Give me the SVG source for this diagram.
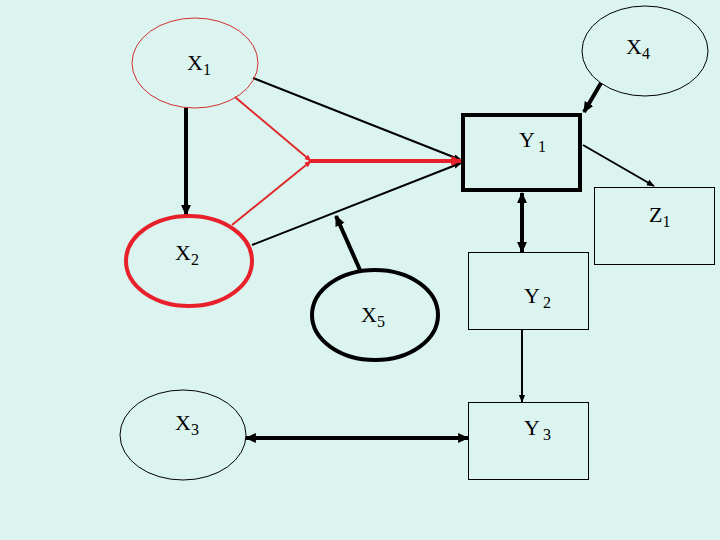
<svg xmlns="http://www.w3.org/2000/svg" width="720" height="540" viewBox="0 0 720 540">
<style>
text{font-family:"Liberation Serif","Times New Roman",serif;font-size:22px;fill:#000}
.sub{font-size:16px}
.thin{fill:none;stroke:#000;stroke-width:1}
.bk{stroke:#000;fill:none}
</style>
<defs>
<marker id="ab" viewBox="0 0 10 10" refX="9" refY="5" markerWidth="11" markerHeight="11" markerUnits="userSpaceOnUse" orient="auto-start-reverse"><path d="M0,0.5 L10,5 L0,9.5 z" fill="#000"/></marker>
<marker id="as" viewBox="0 0 10 10" refX="9" refY="5" markerWidth="8" markerHeight="8" markerUnits="userSpaceOnUse" orient="auto-start-reverse"><path d="M0,1 L10,5 L0,9 z" fill="#000"/></marker>
<marker id="ar" viewBox="0 0 10 10" refX="9" refY="5" markerWidth="11" markerHeight="11" markerUnits="userSpaceOnUse" orient="auto"><path d="M0,0.5 L10,5 L0,9.5 z" fill="#e8202a"/></marker>
<marker id="ars" viewBox="0 0 10 10" refX="9" refY="5" markerWidth="7" markerHeight="7" markerUnits="userSpaceOnUse" orient="auto"><path d="M0,1 L10,5 L0,9 z" fill="#e8202a"/></marker>
</defs>
<rect width="720" height="540" fill="#dcf4f0"/>
<g id="connectors">
<line x1="253" y1="78" x2="461" y2="160" class="bk" stroke-width="2" marker-end="url(#as)"/>
<line x1="252" y1="245" x2="461" y2="163" class="bk" stroke-width="2" marker-end="url(#as)"/>
<line x1="235" y1="97" x2="311" y2="161" stroke="#e02a2a" stroke-width="2" marker-end="url(#ars)"/>
<line x1="232" y1="225" x2="311" y2="161" stroke="#e02a2a" stroke-width="2" marker-end="url(#ars)"/>
<line x1="309" y1="161" x2="461" y2="161" stroke="#e8202a" stroke-width="4" marker-end="url(#ar)"/>
<line x1="186" y1="108" x2="186" y2="215" class="bk" stroke-width="4" marker-end="url(#ab)"/>
<line x1="601" y1="83" x2="584" y2="112" class="bk" stroke-width="4" marker-end="url(#ab)"/>
<line x1="583" y1="145" x2="654" y2="186" class="bk" stroke-width="2" marker-end="url(#as)"/>
<line x1="522" y1="193" x2="522" y2="252" class="bk" stroke-width="4" marker-start="url(#ab)" marker-end="url(#ab)"/>
<line x1="522" y1="330" x2="522" y2="402" class="bk" stroke-width="2" marker-end="url(#as)"/>
<line x1="360" y1="270" x2="336" y2="216" class="bk" stroke-width="4" marker-end="url(#ab)"/>
<line x1="246" y1="438" x2="468" y2="438" class="bk" stroke-width="4" marker-start="url(#ab)" marker-end="url(#ab)"/>
</g>
<g id="X1"><ellipse cx="195" cy="63" rx="63" ry="45" fill="none" stroke="#d03030" stroke-width="1"/><text x="187" y="70">X<tspan class="sub" dy="5">1</tspan></text></g>
<g id="X4"><ellipse cx="645" cy="51" rx="63" ry="45" class="thin"/><text x="626" y="54">X<tspan class="sub" dy="5">4</tspan></text></g>
<g id="Y1"><rect x="463" y="115" width="117" height="75" fill="none" stroke="#000" stroke-width="4"/><text x="519" y="147">Y<tspan class="sub" dy="5" dx="3">1</tspan></text></g>
<g id="Z1"><rect x="594.5" y="187.5" width="120" height="77" class="thin"/><text x="649" y="222">Z<tspan class="sub" dy="5">1</tspan></text></g>
<g id="X2"><ellipse cx="189" cy="261" rx="63" ry="45" fill="none" stroke="#e8202a" stroke-width="4"/><text x="175" y="260">X<tspan class="sub" dy="5">2</tspan></text></g>
<g id="X5"><ellipse cx="375" cy="315" rx="63" ry="45" fill="none" stroke="#000" stroke-width="4"/><text x="361" y="322">X<tspan class="sub" dy="5">5</tspan></text></g>
<g id="Y2"><rect x="468.5" y="252.5" width="120" height="77" class="thin"/><text x="524" y="303">Y<tspan class="sub" dy="5" dx="3">2</tspan></text></g>
<g id="X3"><ellipse cx="183" cy="435" rx="63" ry="45" class="thin"/><text x="175" y="430">X<tspan class="sub" dy="5">3</tspan></text></g>
<g id="Y3"><rect x="468.5" y="402.5" width="120" height="77" class="thin"/><text x="524" y="435">Y<tspan class="sub" dy="5" dx="3">3</tspan></text></g>
</svg>
